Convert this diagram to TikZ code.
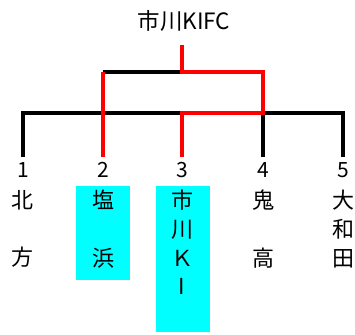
\documentclass[tikz,border=0pt]{standalone}
\usepackage{fontspec}
\setmainfont{Noto Sans CJK JP}
\definecolor{boxcyan}{RGB}{0,255,255}
\definecolor{winred}{RGB}{255,0,0}
\begin{document}
\begin{tikzpicture}[x=1pt,y=-1pt,
  lose/.style={draw=black,line width=4pt},
  win/.style={draw=winred,line width=4pt},
  numlabel/.style={font=\fontsize{21}{24}\selectfont,inner sep=0pt},
  namecol/.style={font=\fontsize{22}{28.7}\selectfont,align=center,inner sep=0pt,anchor=north},
  hibox/.style={fill=boxcyan,draw=none,minimum width=54pt,inner sep=0pt}
]
\useasboundingbox (0,0) rectangle (355,334);
% highlight boxes
\node[hibox,minimum height=94pt] (box2) at (103,233) {};
\node[hibox,minimum height=146pt] (box3) at (183,259) {};
% title
\node[font=\fontsize{22.5}{26}\selectfont,inner sep=0pt] (title) at (184,21) {市川KIFC};
% bracket coordinates
\coordinate (top) at (182,45);
\coordinate (j) at (182,72);
\coordinate (ul) at (103,72);
\coordinate (ur) at (263,72);
\coordinate (lj) at (182,113);
\coordinate (l1) at (23,113);
\coordinate (l2) at (103,113);
\coordinate (l4) at (263,113);
\coordinate (l5) at (343,113);
\coordinate (b1) at (23,157);
\coordinate (b2) at (103,157);
\coordinate (b3) at (182,157);
\coordinate (b4) at (263,157);
\coordinate (b5) at (343,157);
% black (losing) lines
\draw[lose] (ul) -- (j);
\draw[lose] (b1) -- (l1) -- (lj);
\draw[lose] (b4) -- (l4) -- (l5) -- (b5);
% red (winning) lines
\draw[win] (b2) -- (ul);
\draw[win] (b3) -- (lj) -- (l4) -- (ur) -- (j) -- (top);
% numbers
\node[numlabel] (n1) at (23,170) {1};
\node[numlabel] (n2) at (103,170) {2};
\node[numlabel] (n3) at (182,170) {3};
\node[numlabel] (n4) at (263,170) {4};
\node[numlabel] (n5) at (343,170) {5};
% names
\node[namecol] (t1) at (23,190) {北\\\mbox{}\\方};
\node[namecol] (t2) at (103,190) {塩\\\mbox{}\\浜};
\node[namecol] (t3) at (182,190) {市\\川\\Ｋ\\I};
\node[namecol] (t4) at (263,190) {鬼\\\mbox{}\\高};
\node[namecol] (t5) at (343,190) {大\\和\\田};
\end{tikzpicture}
\end{document}
